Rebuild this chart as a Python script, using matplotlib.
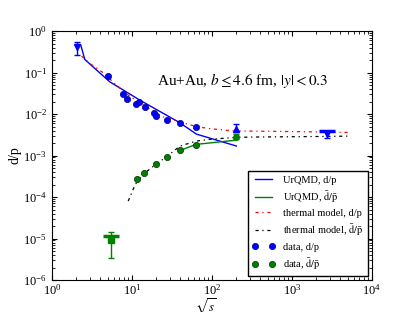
import matplotlib
matplotlib.use("Agg")
import matplotlib.pyplot as plt
import numpy as np

plt.rcParams['font.family'] = ['Liberation Serif', 'DejaVu Serif']
plt.rcParams['mathtext.fontset'] = 'stix'
plt.rcParams['xtick.direction'] = 'in'
plt.rcParams['ytick.direction'] = 'in'
plt.rcParams['xtick.top'] = True
plt.rcParams['ytick.right'] = True

# UrQMD curves
urqmd_dp_x = [2.3, 2.58, 5.3, 12.6, 39.8, 64, 203]
urqmd_dp_y = [0.46, 0.208, 0.06, 0.0217, 0.0062, 0.0033, 0.0017]
urqmd_dbar_x = [39, 63, 203]
urqmd_dbar_y = [1.3e-3, 1.86e-3, 2.36e-3]

# thermal model curves
therm_dp_x = [2.35, 3, 4.4, 6.4, 9, 12, 17, 24.5, 40, 64, 100, 200, 300, 1000, 2760, 5300]
therm_dp_y = [0.25, 0.166, 0.099, 0.05, 0.0287, 0.02, 0.013, 0.0086, 0.0065, 0.005,
              0.0044, 0.0039, 0.0039, 0.0038, 0.0037, 0.0036]
therm_dbar_x = [9, 11, 14, 20, 27, 40, 64, 100, 200, 300, 1000, 2760, 5300]
therm_dbar_y = [8e-5, 2e-4, 3.6e-4, 6.2e-4, 9.3e-4, 1.7e-3, 2.24e-3, 2.5e-3, 2.74e-3,
                2.8e-3, 2.85e-3, 2.9e-3, 2.95e-3]

# data
data_dp_x = [4.97, 7.8, 8.8, 11.4, 12.4, 14.5, 18.8, 19.8, 27.1, 39.8, 63]
data_dp_y = [0.081, 0.0298, 0.0234, 0.018, 0.0198, 0.0145, 0.0108, 0.00895, 0.00703, 0.00607, 0.00486]
data_dbar_x = [11.6, 14.3, 19.8, 27.1, 39.8, 63]
data_dbar_y = [2.67e-4, 3.7e-4, 6.1e-4, 9.0e-4, 1.33e-3, 1.79e-3]

# special data points with error bars
ags_dp = (2.04, 0.42, 0.26, 0.55)        # x, y, low, high
rhic_dp = (203, 0.0045, 0.00374, 0.00574)
lhc_dp = (2760, 0.0034, 0.00269, 0.00396)
rhic_dbar = (203, 2.74e-3, 2.5e-3, 3.3e-3)
ags_dbar = (5.46, 9.2e-6, 3.3e-6, 1.4e-5)
ags_dbar_bar = 1.15e-5

fig = plt.figure(figsize=(4.15, 3.12), dpi=100)
ax = fig.add_axes([0.125, 0.1026, 0.771, 0.7974])
ax.set_xscale('log')
ax.set_yscale('log')

ax.plot(urqmd_dp_x, urqmd_dp_y, '-', color='b', lw=1.0, label='UrQMD, d/p')
ax.plot(urqmd_dbar_x, urqmd_dbar_y, '-', color='g', lw=1.0,
        label=r'UrQMD, $\bar{\rm d}/\bar{\rm p}$')
ls_dd = (0, (2.5, 3, 1, 3))
ax.plot(therm_dp_x, therm_dp_y, color='r', lw=0.9, ls=ls_dd, label='thermal model, d/p')
ax.plot(therm_dbar_x, therm_dbar_y, color='k', lw=0.9, ls=ls_dd,
        label=r'thermal model, $\bar{\rm d}/\bar{\rm p}$')
ax.plot(data_dp_x, data_dp_y, 'o', color='b', mec='#000080', mew=0.5, ms=4.5, ls='none',
        label='data, d/p')
ax.plot(data_dbar_x, data_dbar_y, 'o', color='g', mec='#003000', mew=0.5, ms=4.5, ls='none',
        label=r'data, $\bar{\rm d}/\bar{\rm p}$')

def eb(pt, marker, color, ms=4.5, cap=2):
    x, y, lo, hi = pt
    ax.errorbar([x], [y], yerr=[[y - lo], [hi - y]], fmt=marker, color=color,
                ms=ms, capsize=cap, elinewidth=1, capthick=1, mec=color)

eb(ags_dp, 'v', 'b')
eb(rhic_dp, '^', 'b')
eb(lhc_dp, 'v', 'b')
ax.plot([lhc_dp[0]], [lhc_dp[3]], marker='_', color='b', ms=12, mew=2.5)
eb(rhic_dbar, 'o', 'g', ms=4)
eb(ags_dbar, 's', 'g', ms=4)
ax.plot([ags_dbar[0]], [ags_dbar_bar], marker='_', color='g', ms=12, mew=2.5)

ax.set_xlim(1, 1e4)
ax.set_ylim(1e-6, 1)
ax.set_xlabel(r'$\sqrt{s}$', fontsize=9)
ax.xaxis.set_label_coords(0.48, -0.066)
ax.xaxis.label.set_va('top')
ax.set_ylabel('d/p', fontsize=10, labelpad=1)
ax.tick_params(labelsize=9)
ax.tick_params(axis='x', pad=2)
ax.text(0.33, 0.8, r'Au+Au, $b \leq 4.6$ fm, $|y| < 0.3$', transform=ax.transAxes,
        fontsize=11, va='center', ha='left')

leg = ax.legend(loc='lower right', fontsize=7.5, numpoints=2, handlelength=2.2,
                fancybox=False, framealpha=1, edgecolor='k', borderaxespad=0.4,
                labelspacing=0.4)
leg.get_frame().set_linewidth(1.0)

fig.savefig('out.png', dpi=100)
